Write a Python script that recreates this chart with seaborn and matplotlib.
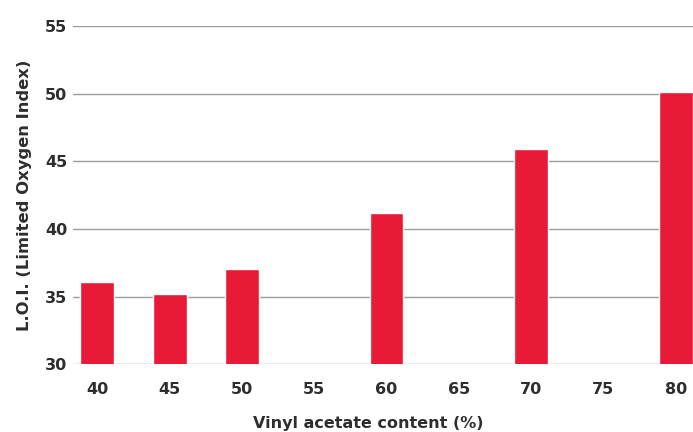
import matplotlib
matplotlib.use("Agg")
import matplotlib.pyplot as plt
import seaborn as sns
import pandas as pd

# Vinyl acetate content (%) and measured limiting oxygen index
content_ticks = ["40", "45", "50", "55", "60", "65", "70", "75", "80"]
content_measured = ["40", "45", "50", "60", "70", "80"]
loi_values = [36.1, 35.15, 37.0, 41.2, 45.9, 50.1]
y_ticks = [30, 35, 40, 45, 50, 55]

df = pd.DataFrame({"content": content_measured, "loi": loi_values})

sns.set_style("white")
plt.rcParams["font.family"] = ["DejaVu Sans"]

fig = plt.figure(figsize=(6.93, 4.32), dpi=100)
ax = fig.add_axes([0.105, 0.157, 0.895, 0.783])

sns.barplot(data=df, x="content", y="loi", order=content_ticks,
            color="#E81A37", saturation=1, width=0.47, ax=ax, zorder=3)

ax.set_ylim(30, 55)
ax.set_xlim(-0.34, 8.24)
ax.set_yticks(y_ticks)
ax.yaxis.grid(True, color="#9d9d9d", linewidth=1.0, zorder=0)
ax.set_axisbelow(True)
for s in ax.spines.values():
    s.set_visible(False)

ax.tick_params(axis="both", length=0, labelsize=11.5, labelcolor="#2e2e2e")
ax.tick_params(axis="x", pad=13)
ax.tick_params(axis="y", pad=4)
for lab in ax.get_xticklabels() + ax.get_yticklabels():
    lab.set_fontweight("bold")

ax.set_xlabel("Vinyl acetate content (%)", fontsize=11.5, fontweight="bold",
              color="#2e2e2e")
ax.xaxis.set_label_coords(0.476, -0.152)
ax.set_ylabel("L.O.I. (Limited Oxygen Index)", fontsize=11.8, fontweight="bold",
              color="#2e2e2e", labelpad=9)

fig.savefig("out.png", dpi=100, facecolor="white")
